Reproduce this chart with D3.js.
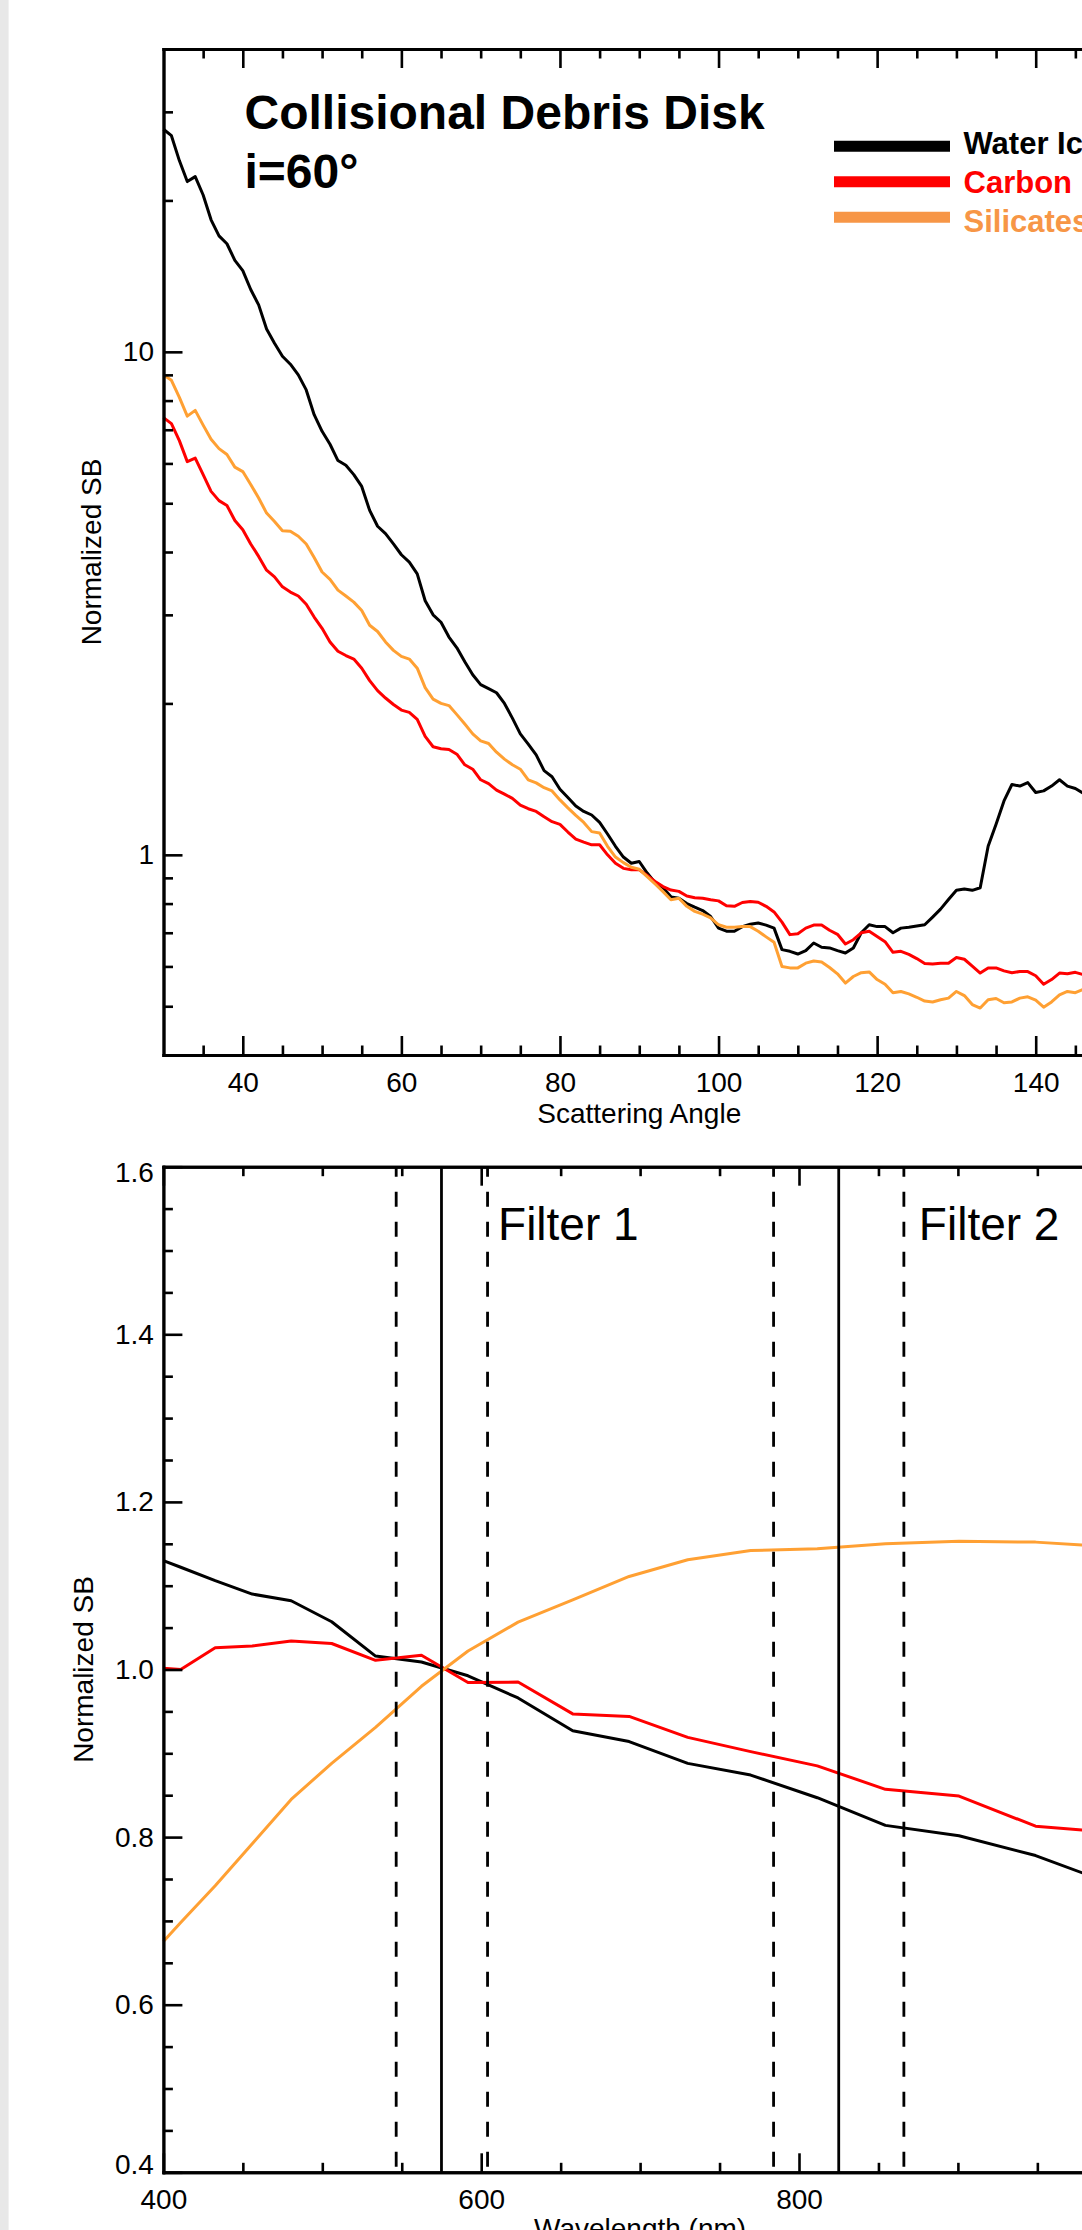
<!DOCTYPE html>
<html><head><meta charset="utf-8">
<script src="https://cdn.jsdelivr.net/npm/d3@7"></script>
<style>
html,body{margin:0;padding:0;background:#fff;overflow:hidden;}
svg{display:block;font-family:"Liberation Sans",Arial,Helvetica,sans-serif;}
</style></head><body>
<svg id="chart" width="1082" height="2230"></svg>
<script>
// ---------- DATA: top panel (scattering angle, log SB) ----------
const angleDomain = [30, 150];
const sbDomain = [0.4, 40];
const angles = d3.range(30, 147); // 30..146 deg, one sample per degree
const angleMajorTicks = [40, 60, 80, 100, 120, 140];
const angleMinorTicks = [35, 45, 50, 55, 65, 70, 75, 85, 90, 95, 105, 110, 115, 125, 130, 135, 145];
const sbMajorTicks = [1, 10];
const sbMinorTicks = [0.5, 0.6, 0.7, 0.8, 0.9, 2, 3, 4, 5, 6, 7, 8, 9, 20, 30];

const waterIce = [
27.7, 26.9, 24.0, 21.8, 22.3, 20.5, 18.3, 17.0, 16.4, 15.2,
14.5, 13.3, 12.4, 11.1, 10.4, 9.8, 9.45, 9.0, 8.4, 7.5,
6.95, 6.55, 6.08, 5.95, 5.7, 5.4, 4.84, 4.5, 4.35, 4.15,
3.95, 3.82, 3.62, 3.2, 3.0, 2.9, 2.71, 2.58, 2.42, 2.28,
2.18, 2.14, 2.1, 2.0, 1.87, 1.74, 1.66, 1.58, 1.47, 1.43,
1.35, 1.30, 1.25, 1.22, 1.20, 1.16, 1.10, 1.04, 0.99, 0.962,
0.97, 0.92, 0.88, 0.86, 0.825, 0.82, 0.80, 0.787, 0.775, 0.754,
0.715, 0.705, 0.705, 0.72, 0.728, 0.732, 0.725, 0.715, 0.648, 0.643,
0.635, 0.645, 0.668, 0.655, 0.653, 0.645, 0.638, 0.653, 0.70, 0.726,
0.72, 0.72, 0.70, 0.715, 0.718, 0.722, 0.726, 0.752, 0.78, 0.815,
0.85, 0.855, 0.85, 0.86, 1.04, 1.15, 1.28, 1.38, 1.37, 1.392,
1.33, 1.34, 1.37, 1.41, 1.37, 1.355, 1.325
];
const carbon = [
7.4, 7.2, 6.66, 6.05, 6.15, 5.7, 5.28, 5.06, 4.95, 4.62,
4.43, 4.15, 3.92, 3.68, 3.57, 3.41, 3.33, 3.27, 3.15, 2.97,
2.82, 2.65, 2.54, 2.49, 2.45, 2.35, 2.22, 2.12, 2.05, 1.99,
1.94, 1.92, 1.86, 1.72, 1.64, 1.625, 1.62, 1.585, 1.51, 1.48,
1.41, 1.385, 1.345, 1.32, 1.295, 1.255, 1.235, 1.22, 1.19, 1.164,
1.15, 1.11, 1.075, 1.06, 1.047, 1.047, 1.00, 0.962, 0.94, 0.934,
0.934, 0.91, 0.885, 0.865, 0.851, 0.846, 0.828, 0.822, 0.82, 0.814,
0.81, 0.792, 0.79, 0.804, 0.808, 0.805, 0.79, 0.77, 0.735, 0.694,
0.697, 0.715, 0.725, 0.725, 0.708, 0.695, 0.665, 0.678, 0.70, 0.705,
0.688, 0.672, 0.64, 0.643, 0.634, 0.622, 0.608, 0.607, 0.609, 0.609,
0.625, 0.62, 0.601, 0.582, 0.596, 0.596, 0.588, 0.583, 0.586, 0.586,
0.575, 0.553, 0.565, 0.582, 0.58, 0.584, 0.578
];
const silicates = [
9.0, 8.78, 8.12, 7.45, 7.65, 7.15, 6.7, 6.42, 6.25, 5.9,
5.78, 5.45, 5.12, 4.78, 4.6, 4.41, 4.4, 4.3, 4.15, 3.9,
3.65, 3.53, 3.36, 3.27, 3.18, 3.06, 2.86, 2.78, 2.65, 2.55,
2.48, 2.45, 2.35, 2.15, 2.04, 2.0, 1.98, 1.9, 1.82, 1.74,
1.685, 1.665, 1.6, 1.55, 1.51, 1.48, 1.41, 1.39, 1.36, 1.34,
1.286, 1.24, 1.198, 1.16, 1.112, 1.105, 1.04, 0.99, 0.965, 0.945,
0.936, 0.905, 0.875, 0.845, 0.814, 0.82, 0.79, 0.772, 0.762, 0.749,
0.726, 0.718, 0.718, 0.72, 0.72, 0.705, 0.687, 0.67, 0.6, 0.596,
0.596, 0.609, 0.615, 0.612, 0.597, 0.58, 0.556, 0.573, 0.583, 0.585,
0.565, 0.553, 0.532, 0.535, 0.529, 0.521, 0.512, 0.51, 0.515, 0.519,
0.535, 0.525, 0.504, 0.496, 0.515, 0.518, 0.508, 0.51, 0.519, 0.522,
0.514, 0.498, 0.51, 0.527, 0.535, 0.532, 0.54
];
const seriesNames = ["Water Ice", "Carbon", "Silicates"];
const lineColors = ["#000000", "#ff0000", "#ffa033"];
const legendColors = ["#000000", "#ff0000", "#f79646"];

// ---------- DATA: bottom panel (wavelength) ----------
const waveDomain = [400, 1000];
const sbLinDomain = [0.4, 1.6];
const wavelengths = [400, 410.9, 432.6, 455.9, 480.4, 505.9, 533.5, 562.4, 591.7, 623.2, 657.6, 693.1, 730, 769.6, 811.5, 854.4, 900.7, 948.9, 1000];
const waterIceW = [1.13, 1.122, 1.106, 1.090, 1.082, 1.057, 1.016, 1.009, 0.9925, 0.966, 0.927, 0.914, 0.888, 0.874, 0.847, 0.814, 0.8016, 0.778, 0.742];
const carbonW   = [1.0016, 1.0, 1.026, 1.028, 1.034, 1.031, 1.011, 1.017, 0.9845, 0.985, 0.947, 0.944, 0.919, 0.902, 0.885, 0.857, 0.849, 0.813, 0.805];
const silicatesW= [0.6755, 0.698, 0.742, 0.792, 0.845, 0.888, 0.931, 0.98, 1.022, 1.0565, 1.083, 1.111, 1.131, 1.142, 1.144, 1.150, 1.153, 1.152, 1.146];
const waveMajorTicks = [400, 600, 800, 1000];
const waveMinorTicks = [450, 500, 550, 650, 700, 750, 850, 900, 950];
const sbLinMajorTicks = [0.4, 0.6, 0.8, 1.0, 1.2, 1.4, 1.6];
const sbLinMinorTicks = [0.45, 0.5, 0.55, 0.65, 0.7, 0.75, 0.85, 0.9, 0.95, 1.05, 1.1, 1.15, 1.25, 1.3, 1.35, 1.45, 1.5, 1.55];
const filterCenters = [575, 825];
const filterEdges = [546.5, 604, 784, 866];
const filterLabels = ["Filter 1", "Filter 2"];

// ---------- LAYOUT ----------
const W = 1082, H = 2230;
const svg = d3.select("#chart");
svg.append("rect").attr("width", W).attr("height", H).attr("fill", "#fff");
svg.append("rect").attr("x", 0).attr("y", 0).attr("width", 8.6).attr("height", H).attr("fill", "#e8e8e8");

const AXW = 2.9, TICKW = 2.6, LINEW = 3, FS = 28;
const MAJ = 19, MIN = 9.5;

function styleAxis(g, showText) {
  g.select(".domain").attr("stroke", "#000").attr("stroke-width", AXW).attr("stroke-linecap", "square");
  g.selectAll(".tick line").attr("stroke", "#000").attr("stroke-width", TICKW);
  g.selectAll(".tick text").attr("fill", "#000").style("font-size", FS + "px")
    .style("font-family", '"Liberation Sans",Arial,Helvetica,sans-serif');
  if (!showText) g.selectAll(".tick text").remove();
  g.attr("font-family", null).attr("font-size", null);
}

function frame(P, x, y, xMaj, xMin, yMaj, yMin, xFmt, yFmt) {
  const g = svg.append("g");
  const b1 = g.append("g").attr("transform", `translate(0,${P.bottom})`)
    .call(d3.axisBottom(x).tickValues(xMaj).tickSizeInner(-MAJ).tickSizeOuter(0).tickPadding(17).tickFormat(xFmt));
  styleAxis(b1, true);
  const b2 = g.append("g").attr("transform", `translate(0,${P.bottom})`)
    .call(d3.axisBottom(x).tickValues(xMin).tickSizeInner(-MIN).tickSizeOuter(0).tickFormat(""));
  styleAxis(b2, false);
  const t1 = g.append("g").attr("transform", `translate(0,${P.top})`)
    .call(d3.axisTop(x).tickValues(xMaj).tickSizeInner(-MAJ).tickSizeOuter(0).tickFormat(""));
  styleAxis(t1, false);
  const t2 = g.append("g").attr("transform", `translate(0,${P.top})`)
    .call(d3.axisTop(x).tickValues(xMin).tickSizeInner(-MIN).tickSizeOuter(0).tickFormat(""));
  styleAxis(t2, false);
  const l1 = g.append("g").attr("transform", `translate(${P.left},0)`)
    .call(d3.axisLeft(y).tickValues(yMaj).tickSizeInner(-MAJ).tickSizeOuter(0).tickPadding(9.5).tickFormat(yFmt));
  styleAxis(l1, true);
  const l2 = g.append("g").attr("transform", `translate(${P.left},0)`)
    .call(d3.axisLeft(y).tickValues(yMin).tickSizeInner(-MIN).tickSizeOuter(0).tickFormat(""));
  styleAxis(l2, false);
  const r1 = g.append("g").attr("transform", `translate(${P.right},0)`)
    .call(d3.axisRight(y).tickValues(yMaj).tickSizeInner(-MAJ).tickSizeOuter(0).tickFormat(""));
  styleAxis(r1, false);
  const r2 = g.append("g").attr("transform", `translate(${P.right},0)`)
    .call(d3.axisRight(y).tickValues(yMin).tickSizeInner(-MIN).tickSizeOuter(0).tickFormat(""));
  styleAxis(r2, false);
  return l1;
}

// ---------- TOP PANEL ----------
const T = {left: 163.5, right: 1115, top: 49, bottom: 1055};
const xT = d3.scaleLinear().domain(angleDomain).range([T.left, T.right]);
const yT = d3.scaleLog().domain(sbDomain).range([T.bottom, T.top]);

const lineT = d3.line().x((d, i) => xT(angles[i])).y(d => yT(d));
[waterIce, carbon, silicates].forEach((s, k) => {
  svg.append("path").attr("d", lineT(s)).attr("fill", "none")
    .attr("stroke", lineColors[k]).attr("stroke-width", LINEW).attr("stroke-linejoin", "round");
});
frame(T, xT, yT, angleMajorTicks, angleMinorTicks, sbMajorTicks, sbMinorTicks, d3.format("d"), d3.format("d"));

svg.append("text").attr("x", (T.left + T.right) / 2).attr("y", 1123).attr("text-anchor", "middle")
  .style("font-size", FS + "px").text("Scattering Angle");
svg.append("text").attr("transform", `translate(101,${(T.top + T.bottom) / 2}) rotate(-90)`)
  .attr("text-anchor", "middle").style("font-size", FS + "px").text("Normalized SB");

svg.append("text").attr("x", 244.5).attr("y", 129.3).style("font-size", "48px").style("font-weight", "bold")
  .text("Collisional Debris Disk");
svg.append("text").attr("x", 244.5).attr("y", 188.3).style("font-size", "48px").style("font-weight", "bold")
  .text("i=60°");

const leg = svg.append("g");
seriesNames.forEach((n, k) => {
  const ly = 146.2 + k * 35.5;
  leg.append("line").attr("x1", 834).attr("x2", 950).attr("y1", ly).attr("y2", ly)
    .attr("stroke", legendColors[k]).attr("stroke-width", 11);
  leg.append("text").attr("x", 963.5).attr("y", 154 + k * 38.8).attr("fill", legendColors[k])
    .style("font-size", "31px").style("font-weight", "bold").text(n);
});

// ---------- BOTTOM PANEL ----------
const B = {left: 163.4, right: 1116.8, top: 1166.7, bottom: 2172.3};
const xB = d3.scaleLinear().domain(waveDomain).range([B.left, B.right]);
const yB = d3.scaleLinear().domain(sbLinDomain).range([B.bottom, B.top]);

const lineB = d3.line().x((d, i) => xB(wavelengths[i])).y(d => yB(d));
[waterIceW, carbonW, silicatesW].forEach((s, k) => {
  svg.append("path").attr("d", lineB(s)).attr("fill", "none")
    .attr("stroke", lineColors[k]).attr("stroke-width", LINEW).attr("stroke-linejoin", "round");
});

filterEdges.forEach(w => {
  svg.append("line").attr("x1", xB(w)).attr("x2", xB(w)).attr("y1", B.top).attr("y2", B.bottom)
    .attr("stroke", "#000").attr("stroke-width", 2.8).attr("stroke-dasharray", "15,15").attr("stroke-dashoffset", 5);
});
filterCenters.forEach(w => {
  svg.append("line").attr("x1", xB(w)).attr("x2", xB(w)).attr("y1", B.top).attr("y2", B.bottom)
    .attr("stroke", "#000").attr("stroke-width", 2.8);
});
const filterOffsets = [10.5, 15];
filterLabels.forEach((t, k) => {
  svg.append("text").attr("x", xB(filterEdges[2 * k + 1]) + filterOffsets[k]).attr("y", 1240)
    .style("font-size", "46px").text(t);
});

const lb = frame(B, xB, yB, waveMajorTicks, waveMinorTicks, sbLinMajorTicks, sbLinMinorTicks, d3.format("d"), d3.format(".1f"));
lb.selectAll(".tick text").attr("dy", d => d === 1.6 ? "0.53em" : (d === 0.4 ? "0.03em" : "0.32em"));

svg.append("text").attr("x", (B.left + B.right) / 2).attr("y", 2238).attr("text-anchor", "middle")
  .style("font-size", FS + "px").text("Wavelength (nm)");
svg.append("text").attr("transform", `translate(93,${(B.top + B.bottom) / 2}) rotate(-90)`)
  .attr("text-anchor", "middle").style("font-size", FS + "px").text("Normalized SB");
</script>
</body></html>
